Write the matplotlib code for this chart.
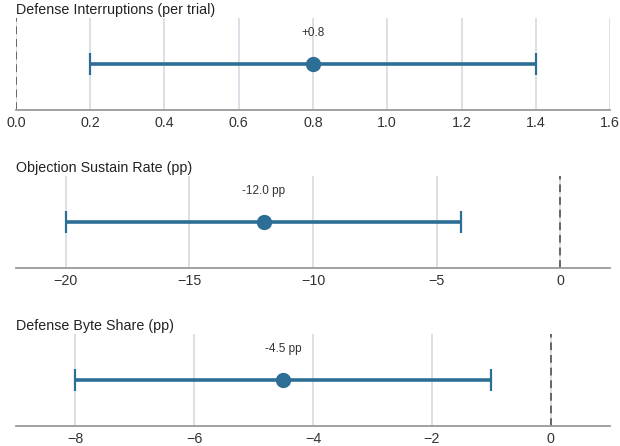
import matplotlib
matplotlib.use("Agg")
import matplotlib.pyplot as plt

plt.rcParams['font.family'] = ['Liberation Sans', 'DejaVu Sans']

titles = ["Defense Interruptions (per trial)", "Objection Sustain Rate (pp)", "Defense Byte Share (pp)"]
estimates = [0.8, -12.0, -4.5]
ci_low = [0.2, -20.0, -8.0]
ci_high = [1.4, -4.0, -1.0]
labels = ["+0.8", "-12.0 pp", "-4.5 pp"]
xlims = [(0.0, 1.6), (-22, 2), (-9, 1)]

color = "#2c6e96"

fig = plt.figure(figsize=(6.2, 4.46), dpi=100)
tops = [18, 176, 334]
h = 92
for i in range(3):
    ax = fig.add_axes([16/620, 1 - (tops[i] + h)/446, 594/620, h/446])
    est = estimates[i]
    ax.errorbar([est], [0], xerr=[[est - ci_low[i]], [ci_high[i] - est]],
                fmt='o', color=color, ecolor=color, elinewidth=2.6, capsize=8,
                capthick=1.6, markersize=10, zorder=3)
    ax.axvline(0, color="#666666", linestyle=(0, (4, 2.5)), linewidth=1.4, zorder=2)
    ax.set_xlim(*xlims[i])
    ax.set_ylim(-1, 1)
    ax.set_yticks([])
    ax.grid(axis='x', color="#d6dbe3", linewidth=1.2, zorder=0)
    ax.set_axisbelow(True)
    for s in ['top', 'right', 'left']:
        ax.spines[s].set_visible(False)
    ax.spines['bottom'].set_color("#9a9a9a")
    ax.spines['bottom'].set_linewidth(1.3)
    ax.tick_params(axis='x', length=0, labelsize=10.3, colors="#333333", pad=4)
    ax.text(est, 0.68, labels[i], ha='center', va='center', fontsize=8.5, color="#333333")
    ax.set_title(titles[i], loc='left', fontsize=10.3, color="#222222", pad=3)

fig.savefig("out.png", dpi=100)
